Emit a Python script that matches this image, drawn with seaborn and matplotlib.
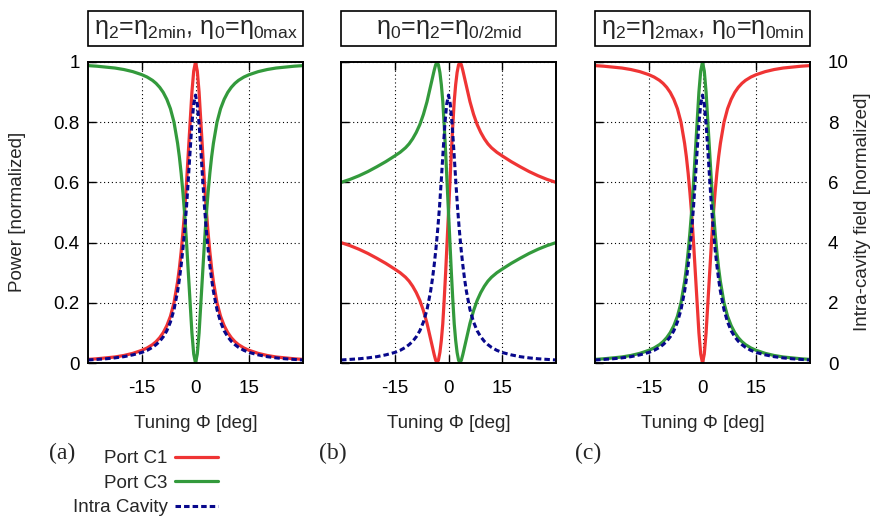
import numpy as np
import matplotlib.pyplot as plt
from matplotlib.patches import Rectangle
import seaborn as sns

# tuning axis [deg] for panels (a) and (c)
phi = [-30, -27.5, -25, -22.5, -20, -17.5, -15, -13.5, -12, -11, -10, -9, -8, -7, -6, -5,
       -4.5, -4, -3.5, -3, -2.5, -2, -1.5, -1, -0.5, 0, 0.5, 1, 1.5, 2, 2.5, 3, 3.5, 4,
       4.5, 5, 6, 7, 8, 9, 10, 11, 12, 13.5, 15, 17.5, 20, 22.5, 25, 27.5, 30]
# tuning axis [deg] for panel (b) (peaks/dips at about +-3.2)
phi_b = [-30, -27.5, -25, -22.5, -20, -17.5, -15, -13.5, -12, -11, -10, -9, -8, -7, -6,
         -5, -4, -3.6, -3.2, -2.8, -2.4, -2, -1.6, -1.2, -0.8, -0.4, 0, 0.4, 0.8, 1.2,
         1.6, 2, 2.4, 2.8, 3.2, 3.6, 4, 5, 6, 7, 8, 9, 10, 11, 12, 13.5, 15, 17.5, 20,
         22.5, 25, 27.5, 30]

# panel (a): eta2 = eta2min, eta0 = eta0max
port_c1_a = [0.012, 0.014, 0.017, 0.02, 0.025, 0.032, 0.042, 0.05, 0.061, 0.071, 0.084,
             0.101, 0.124, 0.155, 0.20, 0.27, 0.315, 0.37, 0.435, 0.51, 0.60, 0.70, 0.80,
             0.90, 0.97, 1.0, 0.97, 0.90, 0.80, 0.70, 0.60, 0.51, 0.435, 0.37, 0.315, 0.27,
             0.20, 0.155, 0.124, 0.101, 0.084, 0.071, 0.061, 0.05, 0.042, 0.032, 0.025,
             0.02, 0.017, 0.014, 0.012]
port_c3_a = [0.988, 0.986, 0.983, 0.98, 0.975, 0.968, 0.958, 0.95, 0.939, 0.929, 0.916,
             0.899, 0.876, 0.845, 0.80, 0.73, 0.685, 0.63, 0.565, 0.49, 0.40, 0.30, 0.20,
             0.10, 0.03, 0.0, 0.03, 0.10, 0.20, 0.30, 0.40, 0.49, 0.565, 0.63, 0.685, 0.73,
             0.80, 0.845, 0.876, 0.899, 0.916, 0.929, 0.939, 0.95, 0.958, 0.968, 0.975,
             0.98, 0.983, 0.986, 0.988]

# intra-cavity field (right axis, 0..10), same in all panels
cavity = [0.10, 0.12, 0.14, 0.17, 0.21, 0.27, 0.35, 0.42, 0.52, 0.61, 0.72, 0.87, 1.07,
          1.36, 1.77, 2.38, 2.78, 3.25, 3.8, 4.45, 5.2, 6.1, 7.05, 7.95, 8.6, 8.9, 8.6,
          7.95, 7.05, 6.1, 5.2, 4.45, 3.8, 3.25, 2.78, 2.38, 1.77, 1.36, 1.07, 0.87, 0.72,
          0.61, 0.52, 0.42, 0.35, 0.27, 0.21, 0.17, 0.14, 0.12, 0.10]

# panel (b): eta0 = eta2 = eta0/2mid
port_c1_b = [0.40, 0.39, 0.378, 0.364, 0.348, 0.331, 0.312, 0.30, 0.285, 0.272, 0.255,
             0.234, 0.208, 0.174, 0.132, 0.08, 0.028, 0.01, 0.0, 0.01, 0.035, 0.075, 0.13,
             0.21, 0.30, 0.40, 0.5, 0.60, 0.70, 0.79, 0.87, 0.925, 0.965, 0.99, 1.0, 0.99,
             0.972, 0.92, 0.868, 0.826, 0.792, 0.766, 0.745, 0.728, 0.715, 0.70, 0.688,
             0.669, 0.652, 0.636, 0.622, 0.61, 0.60]
port_c3_b = [0.60, 0.61, 0.622, 0.636, 0.652, 0.669, 0.688, 0.70, 0.715, 0.728, 0.745,
             0.766, 0.792, 0.826, 0.868, 0.92, 0.972, 0.99, 1.0, 0.99, 0.965, 0.925, 0.87,
             0.79, 0.70, 0.60, 0.5, 0.40, 0.30, 0.21, 0.13, 0.075, 0.035, 0.01, 0.0, 0.01,
             0.028, 0.08, 0.132, 0.174, 0.208, 0.234, 0.255, 0.272, 0.285, 0.30, 0.312,
             0.331, 0.348, 0.364, 0.378, 0.39, 0.40]

# panel (c): ports swapped with respect to (a)
port_c1_c = list(port_c3_a)
port_c3_c = list(port_c1_a)

titles = ['η$_2$=η$_{2min}$, η$_0$=η$_{0max}$',
          'η$_0$=η$_2$=η$_{0/2mid}$',
          'η$_2$=η$_{2max}$, η$_0$=η$_{0min}$']
panel_tags = ['(a)', '(b)', '(c)']
phi_ticks = [-15, 0, 15]
power_ticks = [0, 0.2, 0.4, 0.6, 0.8, 1.0]
power_labels = ['0', '0.2', '0.4', '0.6', '0.8', '1']
field_ticks = [0, 2, 4, 6, 8, 10]

RED = '#ef3434'
GREEN = '#339a3c'
BLUE = '#08088c'

sns.set_theme(style='ticks')
plt.rcParams['font.family'] = ['Liberation Sans', 'DejaVu Sans']
plt.rcParams['mathtext.default'] = 'regular'
plt.rcParams['axes.unicode_minus'] = False

fig = plt.figure(figsize=(8.72, 5.19), dpi=100)
W, H = 872, 519

panels = [(phi, port_c1_a, port_c3_a), (phi_b, port_c1_b, port_c3_b), (phi, port_c1_c, port_c3_c)]
lefts = [88, 341, 595]
tag_x = [61.7, 332.5, 588]
fs = 13.5

for i, (xb, c1, c3) in enumerate(panels):
    ax = fig.add_axes([lefts[i] / W, 1 - 363 / H, 215 / W, 301 / H])
    sns.lineplot(x=xb, y=c1, ax=ax, color=RED, lw=2.3, label='Port C1', legend=False)
    sns.lineplot(x=xb, y=c3, ax=ax, color=GREEN, lw=2.3, label='Port C3', legend=False)
    ax.set_xlim(-30, 30)
    ax.set_ylim(0, 1)
    ax.set_xticks(phi_ticks)
    ax.set_yticks(power_ticks)
    ax.set_yticklabels(power_labels)
    ax.set_xlabel('')
    ax.set_ylabel('')
    ax.grid(True, color='black', linestyle=(0, (1, 2.5)), linewidth=0.8)
    ax.tick_params(axis='both', direction='in', length=6, width=1, top=True, right=True,
                   labelsize=fs, colors='black')
    ax.tick_params(axis='x', pad=12)
    ax.tick_params(axis='y', pad=6, labelleft=(i == 0))
    for sp in ax.spines.values():
        sp.set_linewidth(1.2)
        sp.set_color('black')

    ax2 = ax.twinx()
    sns.lineplot(x=phi, y=cavity, ax=ax2, color=BLUE, lw=2.2, linestyle=(0, (1.8, 1.0)),
                 label='Intra Cavity', legend=False)
    ax2.set_ylim(0, 10)
    ax2.set_yticks(field_ticks)
    ax2.set_ylabel('')
    ax2.tick_params(axis='y', right=False, left=False, labelright=(i == 2), pad=7,
                    labelsize=fs, colors='black')
    for sp in ax2.spines.values():
        sp.set_linewidth(1.2)
        sp.set_color('black')

    # title box above each panel
    ax.add_patch(Rectangle((0, 1.053), 1, 0.117, transform=ax.transAxes, clip_on=False,
                           fill=False, lw=1.2, ec='black'))
    ax.text(0.5, 1.108, titles[i], transform=ax.transAxes, ha='center', va='center',
            fontsize=18)
    ax.text(0.5, -0.2, 'Tuning Φ [deg]', transform=ax.transAxes, ha='center', va='center',
            fontsize=fs)
    fig.text(tag_x[i] / W, 1 - 453 / H, panel_tags[i], ha='center', va='center',
             family='Liberation Serif', fontsize=17)

    if i == 0:
        handles = [ax.lines[0], ax.lines[1], ax2.lines[0]]

fig.text(18 / W, 1 - 212 / H, 'Power [normalized]', rotation=90, ha='center',
         va='center', fontsize=fs)
fig.text(862 / W, 1 - 212 / H, 'Intra-cavity field [normalized]', rotation=90,
         ha='center', va='center', fontsize=fs)

fig.legend(handles, ['Port C1', 'Port C3', 'Intra Cavity'], loc='upper right',
           bbox_to_anchor=(218 / W, 1 - 450 / H), frameon=False, markerfirst=False,
           handlelength=2.3, handletextpad=0.4, labelspacing=0.4, borderpad=0,
           borderaxespad=0, fontsize=fs)

fig.savefig('out.png', dpi=100)
